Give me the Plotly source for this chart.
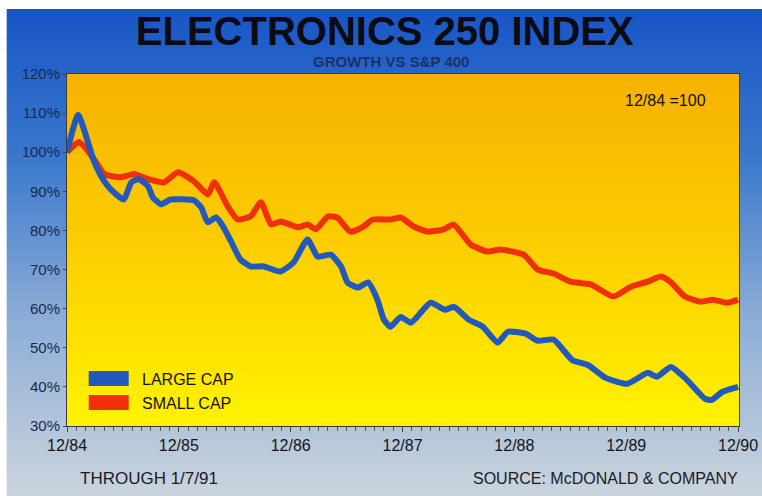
import plotly.graph_objects as go

# months after 12/84 and index value (12/84 = 100)
large_months = [0.0, 1.2, 2.9, 4.0, 4.7, 6.1, 6.9, 7.7, 8.7, 9.2, 10.1, 11.1, 13.6, 14.4,
                15.1, 16.0, 16.8, 17.6, 18.6, 19.7, 21.1, 22.9, 24.3, 25.8, 26.9, 28.3,
                29.4, 30.1, 31.2, 32.3, 33.3, 34.0, 34.7, 35.8, 36.9, 39.0, 40.6, 41.5,
                43.1, 44.6, 46.2, 47.3, 49.2, 50.5, 52.2, 54.2, 55.9, 57.8, 60.1, 62.3,
                63.3, 64.8, 66.3, 68.5, 69.2, 70.3, 72.0]
large_cap = [100.0, 109.5, 97.7, 92.6, 90.5, 87.9, 92.3, 93.1, 91.3, 88.5, 86.7, 87.9, 87.7,
             85.9, 82.1, 83.3, 80.8, 77.2, 72.6, 70.8, 70.8, 69.5, 71.8, 77.7, 73.3, 73.8,
             70.8, 66.7, 65.4, 66.7, 62.3, 57.2, 55.4, 57.9, 56.4, 61.5, 59.7, 60.5, 57.2,
             55.4, 51.3, 54.1, 53.6, 51.8, 52.1, 46.9, 45.6, 42.3, 40.8, 43.6, 42.6, 45.1,
             42.3, 36.9, 36.7, 38.7, 40.0]

small_months = [0.0, 1.3, 2.9, 4.0, 5.8, 7.2, 8.7, 10.4, 11.9, 13.6, 15.1, 15.8, 17.3, 18.3,
                19.7, 20.8, 21.9, 22.9, 24.8, 25.8, 26.7, 28.0, 29.0, 30.4, 31.8, 32.8,
                34.7, 35.8, 37.2, 38.7, 40.4, 41.5, 43.3, 45.1, 46.5, 49.0, 50.5, 52.2,
                54.0, 56.2, 58.6, 60.5, 62.3, 63.7, 64.7, 66.3, 68.0, 69.3, 70.8, 72.0]
small_cap = [100.0, 102.6, 98.2, 94.4, 93.6, 94.4, 93.1, 92.3, 94.9, 92.6, 89.2, 92.3, 85.9,
             82.8, 83.6, 87.2, 81.5, 82.3, 80.8, 81.5, 80.3, 83.6, 83.3, 79.7, 81.0, 82.8,
             82.8, 83.3, 81.0, 79.7, 80.3, 81.5, 76.4, 74.6, 75.1, 73.8, 70.0, 69.0, 66.9,
             66.2, 63.1, 65.6, 66.9, 68.2, 66.9, 63.1, 61.8, 62.3, 61.5, 62.3]

tick_vals = [0, 12, 24, 36, 48, 60, 72]
tick_text = ["12/84", "12/85", "12/86", "12/87", "12/88", "12/89", "12/90"]

BLUE = "#2259bd"
RED = "#f0300c"

# the captured page comes out slightly squeezed sideways, so lay out a bit wider
SX = 770 / 762
W, H = 770, 496
L, R, T, B = round(66 * SX), round(24 * SX), 74, 70
pw, ph = W - L - R, H - T - B


def px_x(x):
    # reference pixel x -> paper x
    return (x * SX - L) / pw


def px_y(y):
    return 1 - (y - T) / ph


def mix(c1, c2, t):
    a = [int(c1[i:i + 2], 16) for i in (1, 3, 5)]
    b = [int(c2[i:i + 2], 16) for i in (1, 3, 5)]
    return "rgb(%d,%d,%d)" % tuple(round(a[k] + (b[k] - a[k]) * t) for k in range(3))


def grad(stops, t):
    for (t0, c0), (t1, c1) in zip(stops, stops[1:]):
        if t <= t1:
            return mix(c0, c1, (t - t0) / (t1 - t0))
    return mix(stops[-1][1], stops[-1][1], 0)


shapes = []
# outer blue background, fading down
outer = [(0, "#1a56c6"), (0.3, "#3a78cc"), (0.65, "#8fafd6"), (1, "#c9d3de")]
n = 50
for i in range(n):
    y0 = 9 + (H - 9) * i / n
    y1 = 9 + (H - 9) * (i + 1) / n + 1
    shapes.append(dict(type="rect", xref="paper", yref="paper", layer="below",
                       x0=px_x(6), x1=px_x(780), y0=px_y(y1), y1=px_y(y0),
                       line=dict(width=0), fillcolor=grad(outer, i / (n - 1))))
# plot area orange -> yellow
inner = [(0, "#f6b200"), (0.5, "#fcce00"), (1, "#fff200")]
m = 44
for i in range(m):
    shapes.append(dict(type="rect", xref="paper", yref="paper", layer="below",
                       x0=0, x1=1, y0=1 - (i + 1) / m - 0.003, y1=1 - i / m,
                       line=dict(width=0), fillcolor=grad(inner, i / (m - 1))))
# legend swatches
for col, ytop in [(BLUE, 371), (RED, 395)]:
    shapes.append(dict(type="rect", xref="paper", yref="paper", layer="above",
                       x0=px_x(88), x1=px_x(128), y0=px_y(ytop + 15), y1=px_y(ytop),
                       line=dict(width=0), fillcolor=col))

fig = go.Figure()
fig.add_trace(go.Scatter(x=small_months, y=small_cap, mode="lines", name="SMALL CAP",
                         line=dict(color=RED, width=6, shape="spline", smoothing=0.5)))
fig.add_trace(go.Scatter(x=large_months, y=large_cap, mode="lines", name="LARGE CAP",
                         line=dict(color=BLUE, width=6, shape="spline", smoothing=0.5)))

fig.update_layout(
    width=W, height=H,
    margin=dict(l=L, r=R, t=T, b=B),
    paper_bgcolor="white",
    plot_bgcolor="#fcce00",
    shapes=shapes,
    showlegend=False,
    font=dict(family="Liberation Sans, Arial, sans-serif", color="#111"),
    title=dict(text="<b>ELECTRONICS 250 INDEX</b>", x=px_x(384), xanchor="center",
               xref="paper", y=1 - 31 / H, yanchor="middle",
               font=dict(size=40, color="#0b0b14")),
    xaxis=dict(range=[0, 72.1], tickvals=tick_vals, ticktext=tick_text,
               showgrid=False, zeroline=False, showline=True, linecolor="#3a3a3a",
               linewidth=1, mirror=True, ticks="outside", ticklen=5, tickcolor="#444",
               minor=dict(dtick=1, ticks="outside", ticklen=4, tickcolor="#555"),
               tickfont=dict(size=16, color="#151515")),
    yaxis=dict(range=[30, 120], dtick=10, ticksuffix="%", showgrid=False,
               zeroline=False, showline=True, linecolor="#3a3a3a", linewidth=1,
               mirror=True, ticks="outside", ticklen=3, tickcolor="#444",
               tickfont=dict(size=15, color="#1c2850")),
    annotations=[
        dict(text="<b>GROWTH VS S&P 400</b>", xref="paper", yref="paper",
             x=px_x(390), y=px_y(61), xanchor="center", yanchor="middle",
             showarrow=False, font=dict(size=15, color="#1d3068")),
        dict(text="12/84 =100", xref="paper", yref="paper", x=px_x(665), y=px_y(100),
             xanchor="center", yanchor="middle", showarrow=False,
             font=dict(size=16, color="#111")),
        dict(text="LARGE CAP", xref="paper", yref="paper", x=px_x(139), y=px_y(379),
             xanchor="left", yanchor="middle", showarrow=False,
             font=dict(size=16, color="#111")),
        dict(text="SMALL CAP", xref="paper", yref="paper", x=px_x(139), y=px_y(403),
             xanchor="left", yanchor="middle", showarrow=False,
             font=dict(size=16, color="#111")),
        dict(text="THROUGH 1/7/91", xref="paper", yref="paper", x=px_x(148),
             y=px_y(478), xanchor="center", yanchor="middle", showarrow=False,
             font=dict(size=17, color="#1a1a28")),
        dict(text="SOURCE: McDONALD & COMPANY", xref="paper", yref="paper",
             x=px_x(605), y=px_y(478), xanchor="center", yanchor="middle",
             showarrow=False, font=dict(size=16, color="#1a1a28")),
    ],
)

# drop the page's default body margin so the figure sits at the window corner
fig.write_html("out.html", config={"displayModeBar": False},
               post_script="document.body.style.margin='0';")
